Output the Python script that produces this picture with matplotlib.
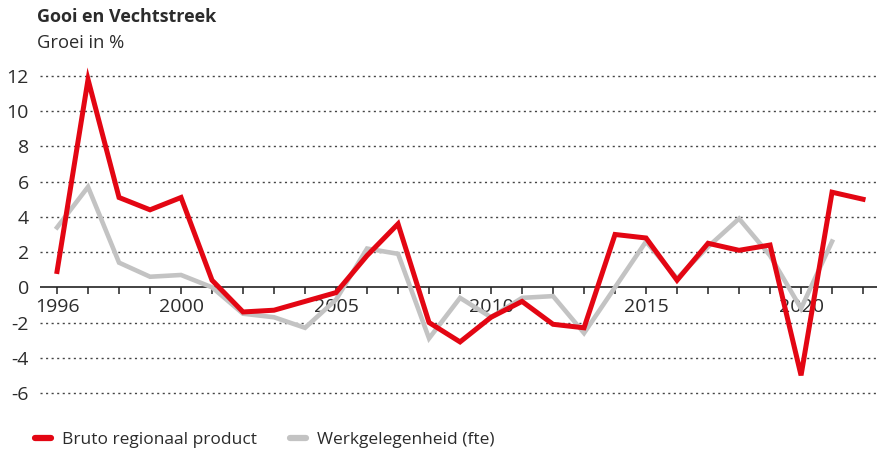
import numpy as np
import matplotlib
matplotlib.use("Agg")
import matplotlib.pyplot as plt

plt.rcParams["font.family"] = ["Open Sans", "DejaVu Sans"]

TITLE = "Gooi en Vechtstreek"
SUBTITLE = "Groei in %"

years = list(range(1996, 2023))
brp = [0.9, 11.8, 5.1, 4.4, 5.1, 0.4, -1.4, -1.3, -0.8, -0.3, 1.8, 3.6, -2.0,
       -3.1, -1.7, -0.8, -2.1, -2.3, 3.0, 2.8, 0.4, 2.5, 2.1, 2.4, -5.0, 5.4, 5.0]
years_fte = list(range(1996, 2022))
fte = [3.4, 5.7, 1.4, 0.6, 0.7, 0.0, -1.5, -1.7, -2.3, -0.7, 2.2, 1.9, -2.9,
       -0.6, -1.7, -0.6, -0.5, -2.6, 0.0, 2.6, 0.5, 2.3, 3.9, 1.8, -1.2, 2.6]
xtick_labels = [1996, 2000, 2005, 2010, 2015, 2020]
yticks = [-6, -4, -2, 0, 2, 4, 6, 8, 10, 12]

C_RED = "#e30613"
C_GREY = "#c3c3c3"
C_TEXT = "#2b2b2b"

fig = plt.figure(figsize=(8.77, 4.53), dpi=100)
ax = fig.add_axes([0.0456, 0.1325, 0.9544, 0.6998])
ax.set_xlim(1995.45, 2022.45)
ax.set_ylim(-6, 12)

for y in yticks:
    if y != 0:
        ax.axhline(y, color="#444444", linewidth=1.0, linestyle=(0, (1.5, 2.5)),
                   zorder=1, clip_on=False)
ax.axhline(0, color="#222222", linewidth=1.2, zorder=2)
ax.vlines(years, -0.4, 0, color="#222222", linewidth=1.1, zorder=2)
for yr in xtick_labels:
    ax.text(yr, -0.6, str(yr), ha="center", va="top", fontsize=14,
            color=C_TEXT, zorder=2)

ax.plot(years_fte, fte, color=C_GREY, linewidth=3.3, zorder=3,
        solid_joinstyle="miter", label="Werkgelegenheid (fte)")
ax.plot(years, brp, color=C_RED, linewidth=3.6, zorder=4, clip_on=False,
        solid_joinstyle="miter", label="Bruto regionaal product")

ax.set_yticks(yticks)
ax.set_yticklabels([str(v) for v in yticks], fontsize=14, color=C_TEXT)
ax.tick_params(axis="y", length=0, pad=8)
ax.set_xticks([])
for s in ax.spines.values():
    s.set_visible(False)

fig.text(0.042, 0.962, TITLE, fontsize=13, fontweight="bold", color=C_TEXT,
         va="center", ha="left")
fig.text(0.042, 0.905, SUBTITLE, fontsize=13.2, color=C_TEXT,
         va="center", ha="left")

handles, labels = ax.get_legend_handles_labels()
leg = fig.legend(handles[::-1], labels[::-1], loc="center left",
                 bbox_to_anchor=(0.022, 0.029), ncol=2, frameon=False,
                 fontsize=12.5, handlelength=0.95, handletextpad=0.6,
                 columnspacing=1.9)
for t in leg.get_texts():
    t.set_color(C_TEXT)
for h in leg.legend_handles:
    h.set_linewidth(4.5)
    h.set_solid_capstyle("round")

fig.savefig("out.png", dpi=100)
